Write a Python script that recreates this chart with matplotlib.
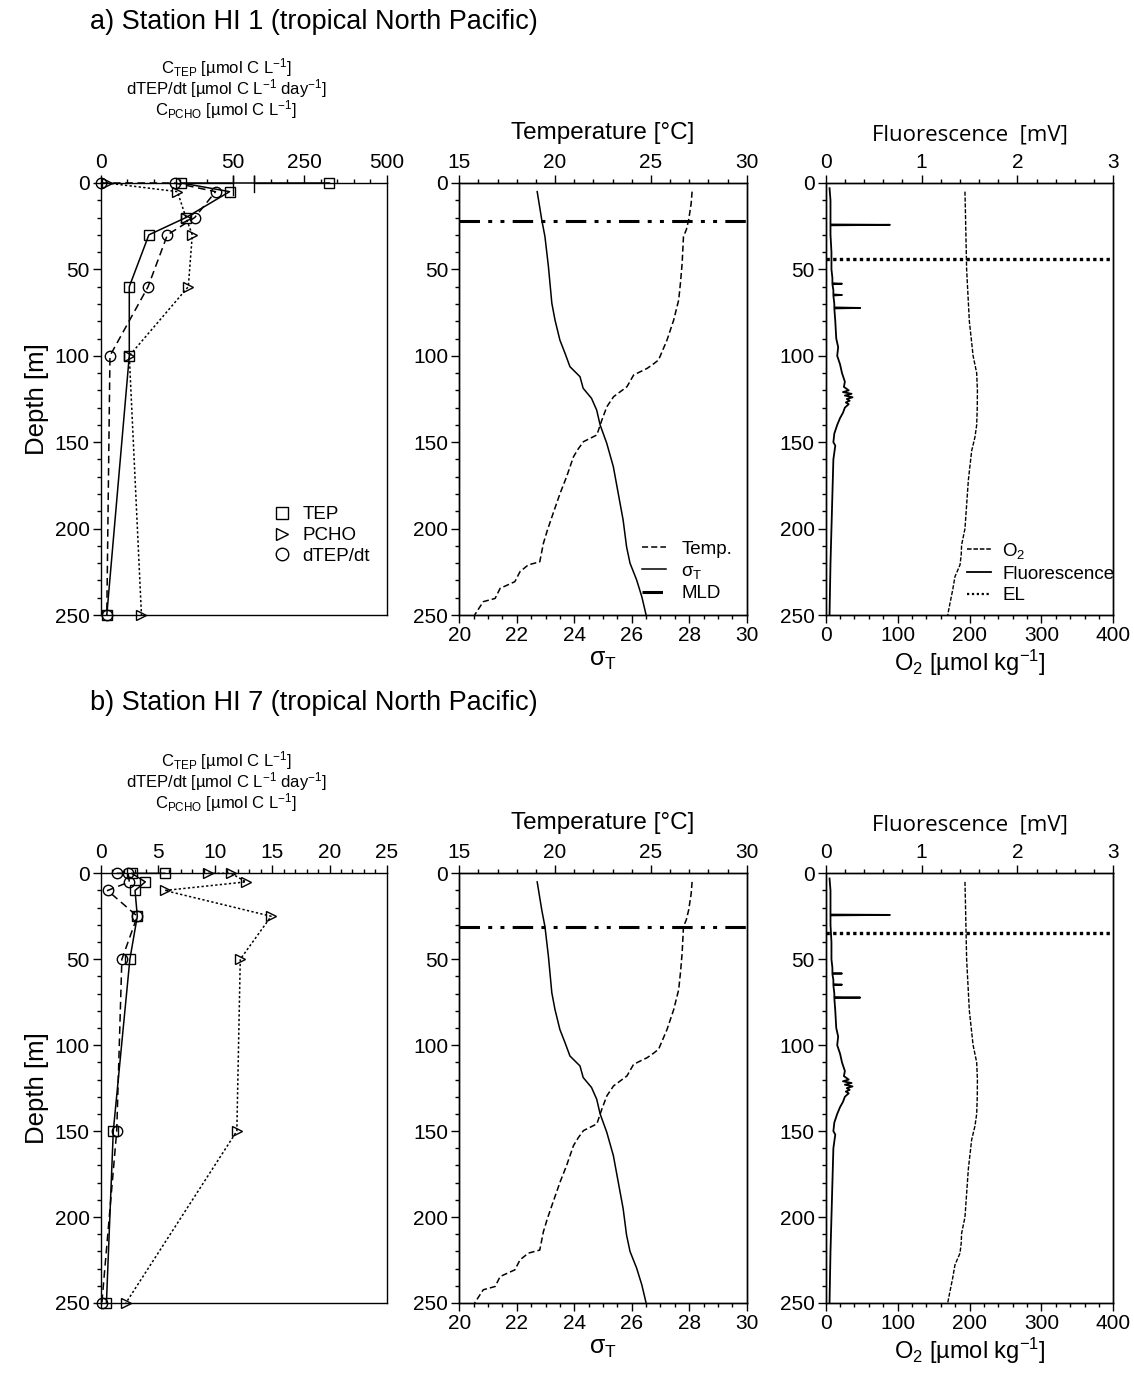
import numpy as np
import matplotlib
matplotlib.use("Agg")
import matplotlib.pyplot as plt
from matplotlib.ticker import MultipleLocator, FixedLocator
from matplotlib.lines import Line2D

plt.rcParams['font.family'] = ['Liberation Sans', 'DejaVu Sans']
plt.rcParams['mathtext.fontset'] = 'custom'
plt.rcParams['mathtext.rm'] = 'Liberation Sans'
plt.rcParams['mathtext.it'] = 'Liberation Sans:italic'
plt.rcParams['mathtext.default'] = 'regular'

# ---- station a (HI 1): discrete samples ----
depth_a = [0, 0, 5, 20, 30, 60, 100, 250]
tep_a = [327, 30.5, 48.7, 32.2, 18.2, 10.8, 10.8, 2.3]
dtep_a = [0, 28.0, 43.4, 35.5, 25.2, 17.9, 3.5, 2.3]
pcho_depth_a = [0, 5, 20, 30, 60, 100, 250]
pcho_a = [2.3, 29.0, 32.2, 34.6, 33.1, 10.8, 15.4]
mld_a = 22
el_a = 44

# ---- station b (HI 7): discrete samples ----
depth_b = [0, 0, 5, 10, 25, 50, 150, 250]
tep_b = [5.6, 2.7, 3.9, 3.0, 3.2, 2.55, 1.1, 0.5]
dtep_b = [1.4, 2.4, 2.5, 0.6, 3.2, 1.85, 1.4, 0.1]
pcho_b = [9.4, 11.4, 12.7, 5.6, 14.9, 12.2, 11.9, 2.2]
mld_b = 31.5
el_b = 35

# ---- CTD profiles (same shape at both stations) ----
temp_depth = [5, 12, 21.4, 27, 31, 40, 46.5, 57, 67.7, 79.3, 90.9, 102.4, 105, 107.3,
              111.1, 114, 117.9, 123.7, 129.5, 137.2, 145.8, 149.7, 154, 158.4, 170,
              179.6, 191.1, 200.8, 208.5, 219.2, 221, 224.9, 230.7, 234.6, 240.4, 242.3, 250]
temp_val = [27.15, 27.1, 26.97, 26.85, 26.7, 26.66, 26.63, 26.55, 26.45, 26.19, 25.84,
            25.4, 25.1, 24.8, 24.1, 23.95, 23.75, 23.05, 22.7, 22.44, 22.18, 21.48, 21.2,
            20.96, 20.6, 20.26, 19.9, 19.6, 19.39, 19.2, 18.6, 18.17, 17.9, 17.13, 16.87,
            16.25, 15.8]

sigma_depth = [5, 21.4, 31, 48.2, 69.6, 79.3, 90.9, 98.6, 106.3, 112.1, 118.8, 124.6,
               131.4, 140, 150.6, 164.2, 179.6, 195, 210.5, 220, 229.7, 239.4, 250]
sigma_val = [22.71, 22.87, 22.98, 23.1, 23.22, 23.33, 23.5, 23.68, 23.85, 24.2, 24.31,
             24.6, 24.78, 24.9, 25.13, 25.36, 25.53, 25.7, 25.82, 25.94, 26.17, 26.35, 26.5]

fluor_depth = [3, 10, 20, 24, 24.2, 24.5, 30, 40, 50, 55, 58, 58.3, 58.6, 62, 64.5, 64.8,
               65.1, 70, 72, 72.3, 72.6, 80, 90, 95, 100, 105, 110, 115, 118, 120, 121, 122,
               123, 124, 125, 126, 127, 128, 130, 133, 136, 140, 145, 150, 152, 160, 180,
               200, 220, 250]
fluor_val = [0.04, 0.05, 0.05, 0.05, 0.67, 0.05, 0.05, 0.06, 0.06, 0.07, 0.07, 0.17, 0.07,
             0.08, 0.08, 0.17, 0.08, 0.09, 0.09, 0.36, 0.09, 0.1, 0.11, 0.13, 0.12, 0.15,
             0.17, 0.2, 0.19, 0.24, 0.18, 0.27, 0.2, 0.28, 0.22, 0.25, 0.21, 0.24, 0.2, 0.18,
             0.15, 0.12, 0.09, 0.08, 0.1, 0.08, 0.07, 0.06, 0.05, 0.04]

o2_depth = [5, 20, 50, 80, 100, 110, 120, 130, 140, 147, 155, 172, 200, 209.5, 215, 221,
            227.8, 235.5, 245, 250]
o2_val = [193.7, 194.5, 196, 199.8, 205, 210, 211, 210.8, 210, 207.6, 203, 198.4, 193.7,
          189, 188.5, 186.8, 179.8, 176.6, 172, 169.7]

W, H = 1134, 1376
MLD_STYLE = (0, (6.7, 2.7, 1.3, 2.7, 1.3, 2.7))

# broken top axis of panel a: 0-50 | 100-500
BRK = [0, 50, 100, 500]
BRK_T = [0, 1, 1.161, 2.161]


def fwd(x):
    return np.interp(x, BRK, BRK_T)


def inv(x):
    return np.interp(x, BRK_T, BRK)


def box(x0, x1, ytop, ybot):
    return [x0 / W, 1 - ybot / H, (x1 - x0) / W, (ybot - ytop) / H]


def style_ticks(ax):
    ax.tick_params(which='major', direction='out', length=6, width=1, labelsize=15, pad=2)
    ax.tick_params(which='minor', direction='out', length=3.2, width=1)
    for s in ax.spines.values():
        s.set_linewidth(1)


def depth_axis(ax, label):
    ax.set_ylim(250, 0)
    ax.yaxis.set_major_locator(MultipleLocator(50))
    ax.yaxis.set_minor_locator(MultipleLocator(10))
    if label:
        ax.set_ylabel('Depth [m]', fontsize=18.5, labelpad=4)


def samples_panel(ax, depth, tep, dtep, pdepth, pcho, broken):
    mk = dict(mfc='none', mec='k', mew=1, ms=7.5, clip_on=False, color='k')
    ax.plot(tep, depth, '-', lw=1.1, marker='s', **mk)
    ax.plot(pcho, pdepth, ls=(0, (1.5, 1.5)), lw=1.1, marker='>', **mk)
    ax.plot(dtep, depth, ls=(0, (5, 3)), lw=1.1, marker='o', **mk)
    depth_axis(ax, True)
    ax.xaxis.tick_top()
    ax.tick_params(bottom=False, labelbottom=False, right=False)
    style_ticks(ax)
    if broken:
        ax.set_xscale('function', functions=(fwd, inv))
        ax.set_xlim(0, 500)
        ax.xaxis.set_major_locator(FixedLocator([0, 50, 100, 250, 500]))
        ax.xaxis.set_major_formatter(plt.FixedFormatter(['0', '50', '', '250', '500']))
        ax.xaxis.set_minor_locator(FixedLocator([10, 20, 30, 40, 150, 200, 300, 350, 400, 450]))
        ax.spines['top'].set_visible(False)
        tr = ax.get_xaxis_transform()
        ax.plot([0, 50], [1, 1], color='k', lw=1, transform=tr, clip_on=False)
        ax.plot([100, 500], [1, 1], color='k', lw=1, transform=tr, clip_on=False)
        ax.plot([50, 50], [0.972, 1.016], color='k', lw=1, transform=tr, clip_on=False)
        ax.plot([100, 100], [0.98, 1.016], color='k', lw=1, transform=tr, clip_on=False)
    else:
        ax.set_xlim(0, 25)
        ax.xaxis.set_major_locator(MultipleLocator(5))
        ax.xaxis.set_minor_locator(MultipleLocator(1))


def ctd_panel(ax, mld, legend):
    axt = ax.twiny()
    axt.plot(temp_val, temp_depth, color='k', lw=1.1, ls=(0, (4, 2)))
    ax.plot(sigma_val, sigma_depth, color='k', lw=1.1)
    ax.axhline(mld, color='k', lw=2.2, ls=MLD_STYLE)
    ax.set_xlim(20, 30)
    ax.xaxis.set_major_locator(MultipleLocator(2))
    ax.xaxis.set_minor_locator(MultipleLocator(0.5))
    axt.set_xlim(15, 30)
    axt.xaxis.set_major_locator(MultipleLocator(5))
    axt.xaxis.set_minor_locator(MultipleLocator(1))
    depth_axis(ax, False)
    style_ticks(ax)
    style_ticks(axt)
    ax.set_xlabel('σ$_T$', fontsize=18, labelpad=2)
    axt.set_xlabel('Temperature [°C]', fontsize=17.5, labelpad=10)
    if legend:
        hs = [Line2D([], [], color='k', lw=1.1, ls=(0, (4, 2))),
              Line2D([], [], color='k', lw=1.1),
              Line2D([], [], color='k', lw=2.2, ls=MLD_STYLE)]
        ax.legend(hs, ['Temp.', 'σ$_T$', 'MLD'], loc='upper left', bbox_to_anchor=(0.635, 0.172),
                  frameon=False, fontsize=13.5, handlelength=1.3, handletextpad=0.8,
                  labelspacing=0.25, borderpad=0, borderaxespad=0)


def optics_panel(ax, el, legend):
    axt = ax.twiny()
    axt.plot(fluor_val, fluor_depth, color='k', lw=1.3)
    ax.plot(o2_val, o2_depth, color='k', lw=1.0, ls=(0, (3, 1.2)))
    ax.axhline(el, color='k', lw=2.4, ls=(0, (1, 1)))
    ax.set_xlim(0, 400)
    ax.xaxis.set_major_locator(MultipleLocator(100))
    ax.xaxis.set_minor_locator(MultipleLocator(20))
    axt.set_xlim(0, 3)
    axt.xaxis.set_major_locator(MultipleLocator(1))
    axt.xaxis.set_minor_locator(MultipleLocator(0.2))
    depth_axis(ax, False)
    style_ticks(ax)
    style_ticks(axt)
    ax.set_xlabel('O$_2$ [µmol kg$^{-1}$]', fontsize=17, labelpad=2)
    axt.set_xlabel('Fluorescence  [mV]', fontsize=16, family='Open Sans', labelpad=9)
    if legend:
        hs = [Line2D([], [], color='k', lw=1.1, ls=(0, (3, 1.2))),
              Line2D([], [], color='k', lw=1.3),
              Line2D([], [], color='k', lw=1.6, ls=(0, (1, 1.2)))]
        ax.legend(hs, ['O$_2$', 'Fluorescence', 'EL'], loc='upper left',
                  bbox_to_anchor=(0.49, 0.172), frameon=False, fontsize=13.5,
                  handlelength=1.3, handletextpad=0.6, labelspacing=0.25,
                  borderpad=0, borderaxespad=0)


def header(y0):
    lines = ['C$_{TEP}$ [µmol C L$^{-1}$]',
             'dTEP/dt [µmol C L$^{-1}$ day$^{-1}$]',
             'C$_{PCHO}$ [µmol C L$^{-1}$]']
    for i, t in enumerate(lines):
        fig.text(226 / W, 1 - (y0 + 21 * i) / H, t, fontsize=12, ha='center', va='center')


if __name__ == "__main__":
    fig = plt.figure(figsize=(W / 100, H / 100), dpi=100)

    # row a
    fig.text(90 / W, 1 - 22 / H, 'a) Station HI 1 (tropical North Pacific)', fontsize=19.5, va='center')
    header(68)
    ax1 = fig.add_axes(box(100.7, 386.7, 183, 615))
    samples_panel(ax1, depth_a, tep_a, dtep_a, pcho_depth_a, pcho_a, True)
    hs = [Line2D([], [], ls='none', marker=m, mfc='none', mec='k', ms=9, mew=1)
          for m in ['s', '>', 'o']]
    ax1.legend(hs, ['TEP', 'PCHO', 'dTEP/dt'], loc='upper left', bbox_to_anchor=(0.6, 0.252),
               frameon=False, fontsize=13.5, handlelength=1.0, handletextpad=0.6,
               labelspacing=0.2, borderpad=0, borderaxespad=0)
    ax2 = fig.add_axes(box(459.3, 746.7, 183, 615))
    ctd_panel(ax2, mld_a, True)
    ax3 = fig.add_axes(box(825.7, 1113.3, 183, 615))
    optics_panel(ax3, el_a, True)

    # row b
    fig.text(90 / W, 1 - 703 / H, 'b) Station HI 7 (tropical North Pacific)', fontsize=19.5, va='center')
    header(761)
    ax4 = fig.add_axes(box(100.7, 386.7, 873.3, 1303))
    samples_panel(ax4, depth_b, tep_b, dtep_b, depth_b, pcho_b, False)
    ax5 = fig.add_axes(box(459.3, 746.7, 873.3, 1303))
    ctd_panel(ax5, mld_b, False)
    ax6 = fig.add_axes(box(825.7, 1113.3, 873.3, 1303))
    optics_panel(ax6, el_b, False)

    fig.savefig('out.png', dpi=100)
